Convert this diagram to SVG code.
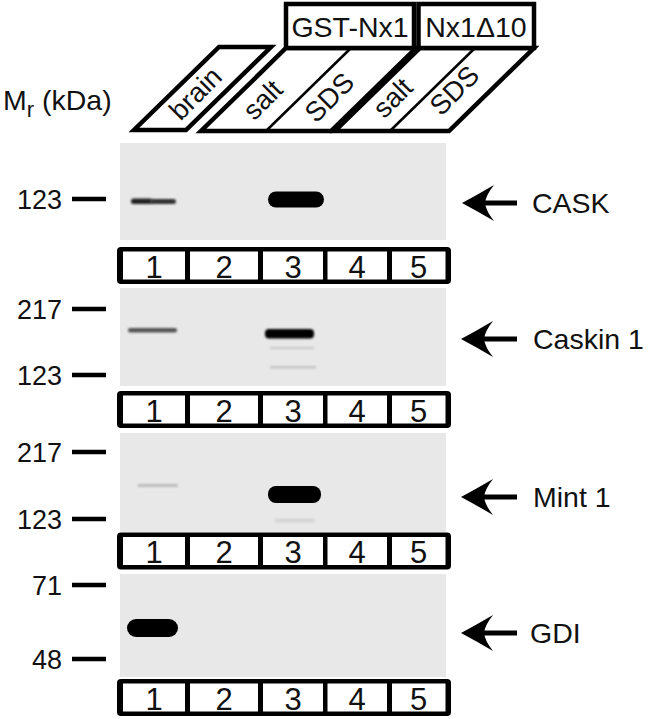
<svg xmlns="http://www.w3.org/2000/svg" width="648" height="719" viewBox="0 0 648 719">
<defs>
<style>
text{font-family:"Liberation Sans",Arial,sans-serif;fill:#111}
.hdr{fill:#fff;stroke:#000;stroke-width:4.5;stroke-linejoin:miter}
.div{stroke:#000;stroke-width:2.5;fill:none}
.gel{fill:#e8e8e8}
.tick{stroke:#000;stroke-width:4.5}
.mw{font-size:27px;text-anchor:end}
.lbl{font-size:28.5px}
.num{font-size:31px;text-anchor:middle}
.slant{font-size:27.5px;text-anchor:middle}
.box{font-size:28.5px;text-anchor:middle}
.cell{fill:#fff}
.shaft{stroke:#000;stroke-width:5}
</style>
<filter id="soft" x="-20%" y="-100%" width="140%" height="300%"><feGaussianBlur stdDeviation="0.8"/></filter>
<filter id="soft2" x="-20%" y="-100%" width="140%" height="300%"><feGaussianBlur stdDeviation="1.5"/></filter>
<g id="lanebox">
<rect x="117" y="0" width="334" height="37" rx="4" fill="#000"/>
<rect class="cell" x="123" y="4.5" width="62" height="28"/>
<rect class="cell" x="190" y="4.5" width="68" height="28"/>
<rect class="cell" x="263" y="4.5" width="60" height="28"/>
<rect class="cell" x="327.5" y="4.5" width="59.5" height="28"/>
<rect class="cell" x="392" y="4.5" width="53.5" height="28"/>
<text class="num" x="154" y="30.5">1</text>
<text class="num" x="224" y="30.5">2</text>
<text class="num" x="293" y="30.5">3</text>
<text class="num" x="357" y="30.5">4</text>
<text class="num" x="418.5" y="30.5">5</text>
</g>
<path id="arrowhead" d="M0,0 Q15,-8 32,-18 Q24,-8 23,0 Q24,8 32,18 Q15,8 0,0 Z" fill="#000"/>
</defs>
<rect width="648" height="719" fill="#fff"/>

<g id="header">
<text class="lbl" x="3" y="110" font-size="30">M<tspan font-size="22" dy="7">r</tspan><tspan dy="-7"> (kDa)</tspan></text>
<g id="brain">
<polygon class="hdr" points="134,130 186,130 271,47 219,47"/>
<text class="slant" transform="translate(195,93) rotate(-45)" dy="10">brain</text>
</g>
<g id="gst">
<polygon class="hdr" points="201,131 331,131 416,48 286,48"/>
<line class="div" x1="266" y1="131" x2="351" y2="48"/>
<text class="slant" transform="translate(263,100) rotate(-45)" dy="9">salt</text>
<text class="slant" transform="translate(329,97) rotate(-45)" dy="10">SDS</text>
<rect class="hdr" x="286" y="4" width="128" height="44"/>
<text class="box" x="350" y="37">GST-Nx1</text>
</g>
<g id="nx1d10">
<polygon class="hdr" points="335,131 449,131 534,48 420,48"/>
<line class="div" x1="390" y1="131" x2="475" y2="48"/>
<text class="slant" transform="translate(393,98) rotate(-45)" dy="9">salt</text>
<text class="slant" transform="translate(454,90) rotate(-45)" dy="10">SDS</text>
<rect class="hdr" x="418.5" y="4" width="115.5" height="44"/>
<text class="box" x="476" y="37">Nx1Δ10</text>
</g>
</g>

<g id="gels">
<rect class="gel" x="120" y="143" width="326" height="97"/>
<rect class="gel" x="120" y="288" width="326" height="98"/>
<rect class="gel" x="120" y="433" width="326" height="99"/>
<rect class="gel" x="120" y="574" width="326" height="103"/>
</g>

<g id="bands">
<rect x="131" y="198.5" width="21" height="5.5" rx="2.5" fill="#222" filter="url(#soft)"/>
<rect x="150" y="199" width="26" height="5" rx="2.5" fill="#333" filter="url(#soft)"/>
<rect x="268" y="191.5" width="56" height="16" rx="8" fill="#000"/>
<rect x="128" y="328" width="49" height="4.5" rx="2" fill="#555" filter="url(#soft)"/>
<rect x="265" y="329" width="49" height="9.5" rx="4" fill="#000" filter="url(#soft)"/>
<rect x="270" y="347" width="44" height="2" fill="#c8c8c8" filter="url(#soft)"/>
<rect x="270" y="366" width="46" height="2.5" fill="#c4c4c4" filter="url(#soft)"/>
<rect x="138" y="484" width="40" height="3" fill="#bcbcbc" filter="url(#soft)"/>
<rect x="268" y="486" width="53" height="17" rx="8" fill="#000"/>
<rect x="275" y="519" width="40" height="3" fill="#cdcdcd" filter="url(#soft2)"/>
<rect x="127" y="619" width="51" height="18" rx="9" fill="#000"/>
</g>

<g id="lane-labels">
<use href="#lanebox" y="247"/>
<use href="#lanebox" y="391"/>
<use href="#lanebox" y="532.5"/>
<use href="#lanebox" y="679"/>
</g>

<g id="markers">
<line class="tick" x1="72" y1="199" x2="106" y2="199"/><text class="mw" x="62" y="209">123</text>
<line class="tick" x1="72" y1="309" x2="106" y2="309"/><text class="mw" x="62" y="319">217</text>
<line class="tick" x1="72" y1="375" x2="106" y2="375"/><text class="mw" x="62" y="385">123</text>
<line class="tick" x1="72" y1="452" x2="106" y2="452"/><text class="mw" x="62" y="462">217</text>
<line class="tick" x1="72" y1="519" x2="106" y2="519"/><text class="mw" x="62" y="529">123</text>
<line class="tick" x1="72" y1="585" x2="106" y2="585"/><text class="mw" x="62" y="595">71</text>
<line class="tick" x1="72" y1="659" x2="106" y2="659"/><text class="mw" x="62" y="669">48</text>
</g>

<g id="connectors">
<line class="shaft" x1="484" y1="203" x2="517" y2="203"/><use href="#arrowhead" x="462" y="203"/>
<line class="shaft" x1="484" y1="339" x2="517" y2="339"/><use href="#arrowhead" x="461" y="339"/>
<line class="shaft" x1="484" y1="497" x2="517" y2="497"/><use href="#arrowhead" x="461" y="497"/>
<line class="shaft" x1="484" y1="633" x2="517" y2="633"/><use href="#arrowhead" x="461" y="633"/>
</g>

<g id="protein-labels">
<text class="lbl" x="532" y="213">CASK</text>
<text class="lbl" x="533" y="349">Caskin 1</text>
<text class="lbl" x="533" y="507">Mint 1</text>
<text class="lbl" x="530" y="643">GDI</text>
</g>
</svg>
